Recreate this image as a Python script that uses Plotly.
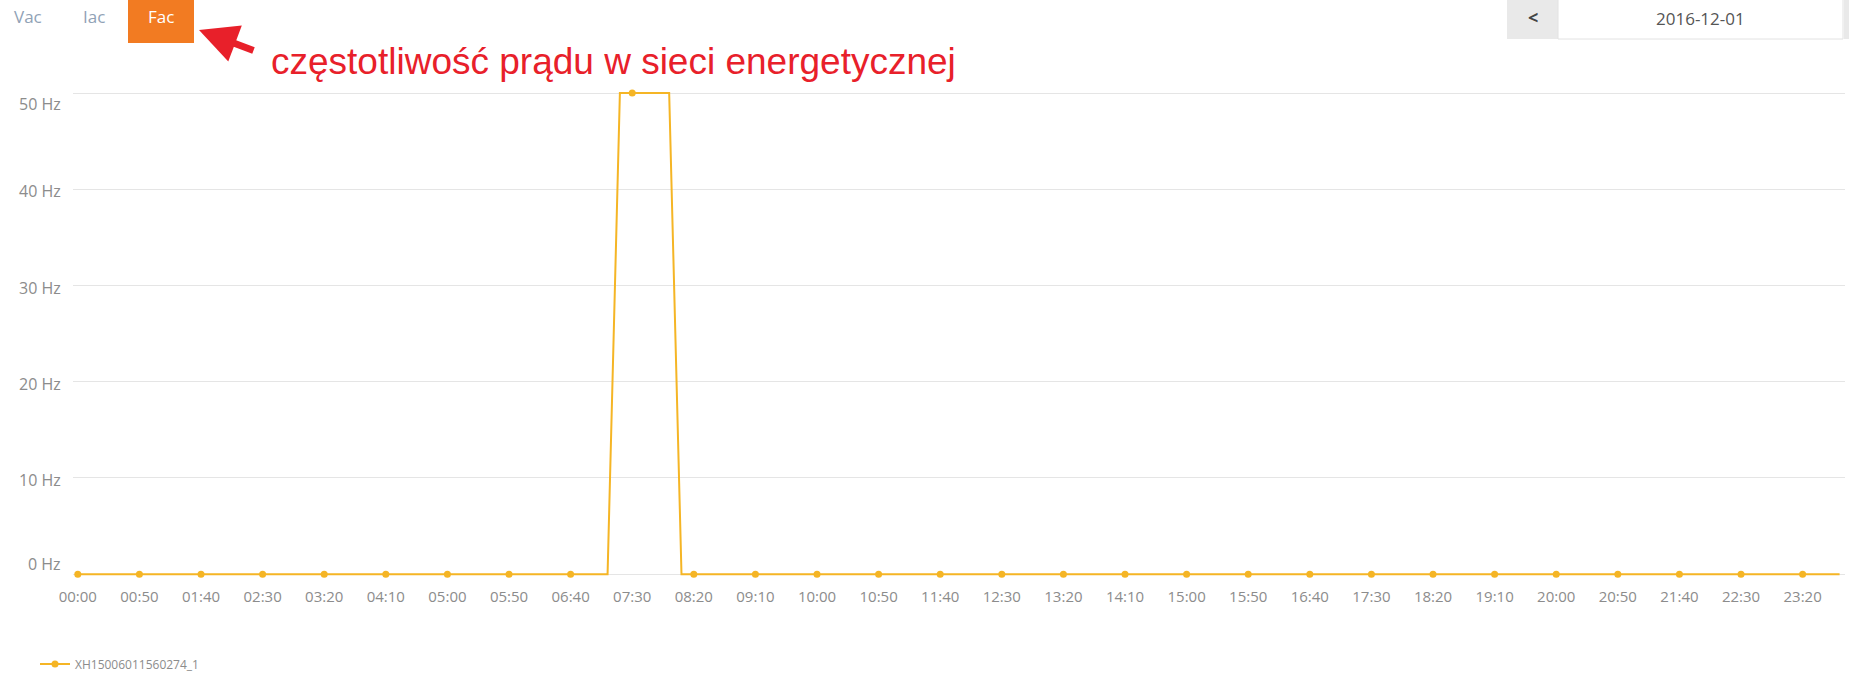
import plotly.graph_objects as go

# ---------------- data ----------------
times = [f"{h:02d}:{m:02d}" for h in range(24) for m in range(0, 60, 10)]

fac_hz = [
    0, 0, 0, 0, 0, 0, 0, 0, 0, 0, 0, 0,            # 00:00 - 01:50
    0, 0, 0, 0, 0, 0, 0, 0, 0, 0, 0, 0,            # 02:00 - 03:50
    0, 0, 0, 0, 0, 0, 0, 0, 0, 0, 0, 0,            # 04:00 - 05:50
    0, 0, 0, 0, 0, 0, 0, 0, 50.01, 50.0, 49.99, 50.0,  # 06:00 - 07:50
    50.01, 0, 0, 0, 0, 0, 0, 0, 0, 0, 0, 0,        # 08:00 - 09:50
    0, 0, 0, 0, 0, 0, 0, 0, 0, 0, 0, 0,            # 10:00 - 11:50
    0, 0, 0, 0, 0, 0, 0, 0, 0, 0, 0, 0,            # 12:00 - 13:50
    0, 0, 0, 0, 0, 0, 0, 0, 0, 0, 0, 0,            # 14:00 - 15:50
    0, 0, 0, 0, 0, 0, 0, 0, 0, 0, 0, 0,            # 16:00 - 17:50
    0, 0, 0, 0, 0, 0, 0, 0, 0, 0, 0, 0,            # 18:00 - 19:50
    0, 0, 0, 0, 0, 0, 0, 0, 0, 0, 0, 0,            # 20:00 - 21:50
    0, 0, 0, 0, 0, 0, 0, 0, 0, 0, 0, 0,            # 22:00 - 23:50
]
series_name = "XH15006011560274_1"

x_tick_step = 5
x_tick_labels = times[::x_tick_step]
y_ticks = [0, 10, 20, 30, 40, 50]
y_tick_labels = [f"{v} Hz" for v in y_ticks]
tabs = ["Vac", "Iac", "Fac"]
active_tab = "Fac"
date_text = "2016-12-01"
note_text = "częstotliwość prądu w sieci energetycznej"

# ---------------- layout geometry ----------------
W, H = 1849, 679
ML, MR, MT, MB = 73, 4, 85, 101
PW, PH = W - ML - MR, H - MT - MB


def px(x):
    return (x - ML) / PW


def py(y):
    return 1 - (y - MT) / PH


LINE = "#f5b525"
GRID = "#e5e5e5"
FONT = "Open Sans"
TXT = "#8c8c8c"

fig = go.Figure()
fig.add_trace(go.Scatter(
    x=times, y=fac_hz, mode="lines", name=series_name,
    line=dict(color=LINE, width=2), showlegend=False, hoverinfo="skip",
))
fig.add_trace(go.Scatter(
    x=times[::x_tick_step], y=fac_hz[::x_tick_step], mode="markers",
    marker=dict(color=LINE, size=7), showlegend=False, hoverinfo="skip",
))
# legend entry
fig.add_trace(go.Scatter(
    x=[None], y=[None], mode="lines+markers", name=series_name,
    line=dict(color=LINE, width=2), marker=dict(color=LINE, size=7),
))

fig.update_layout(
    width=W, height=H, autosize=False,
    margin=dict(l=ML, r=MR, t=MT, b=MB, pad=0),
    paper_bgcolor="white", plot_bgcolor="white",
    font=dict(family=FONT, size=15, color=TXT),
    legend=dict(orientation="h", xref="container", yref="container",
                x=35 / W, y=1 - 664 / H, xanchor="left", yanchor="middle",
                font=dict(size=12, color=TXT), bgcolor="rgba(0,0,0,0)"),
    xaxis=dict(type="category", range=[-0.39, 143.44], tickmode="array",
               tickvals=x_tick_labels, ticktext=x_tick_labels,
               showgrid=False, zeroline=False, showline=False, ticks="",
               ticklabelstandoff=8, tickfont=dict(size=15, color=TXT)),
    yaxis=dict(range=[-0.395, 50.84], tickvals=y_ticks, showticklabels=False,
               showgrid=True, gridcolor=GRID, gridwidth=1, zeroline=False,
               showline=False, ticks=""),
)

# y labels (top and bottom labels shifted inward as in the original)
shifts = {0: 10, 50: -11}
for v, lab in zip(y_ticks, y_tick_labels):
    fig.add_annotation(x=px(63), y=v, xref="paper", yref="y", text=lab,
                       showarrow=False, xanchor="right", yanchor="middle",
                       yshift=shifts.get(v, -2),
                       font=dict(family=FONT, size=16, color=TXT))

# tabs
tab_centers = {"Vac": 28, "Iac": 94, "Fac": 161}
fig.add_shape(type="rect", xref="paper", yref="paper",
              x0=px(128), x1=px(194), y0=py(43), y1=py(0),
              fillcolor="#f27b22", line=dict(width=0), layer="below")
for t in tabs:
    fig.add_annotation(x=px(tab_centers[t]), y=py(17), xref="paper", yref="paper",
                       text=t, showarrow=False, xanchor="center", yanchor="middle",
                       font=dict(family=FONT, size=17,
                                 color="white" if t == active_tab else "#90a2b6"))

# arrow + note
fig.add_annotation(x=px(199), y=py(30), xref="paper", yref="paper", text="",
                   showarrow=True, ax=56, ay=21, arrowhead=2, arrowsize=1.1,
                   arrowwidth=7, arrowcolor="#e8202a", standoff=0)
fig.add_annotation(x=px(269), y=py(62), xref="paper", yref="paper", text=note_text,
                   showarrow=False, xanchor="left", yanchor="middle",
                   font=dict(family="Liberation Sans", size=37, color="#e8202a"))

# date picker
fig.add_shape(type="rect", xref="paper", yref="paper",
              x0=px(1507), x1=px(1558), y0=py(39), y1=py(0),
              fillcolor="#e9e9e9", line=dict(width=0))
fig.add_shape(type="rect", xref="paper", yref="paper",
              x0=px(1558), x1=px(1843), y0=py(39), y1=py(-2),
              fillcolor="white", line=dict(color="#e2e2e2", width=1))
fig.add_shape(type="rect", xref="paper", yref="paper",
              x0=px(1844), x1=px(1850), y0=py(39), y1=py(0),
              fillcolor="#e9e9e9", line=dict(width=0))
fig.add_annotation(x=px(1533), y=py(17), xref="paper", yref="paper", text="<b>&lt;</b>",
                   showarrow=False, xanchor="center", yanchor="middle",
                   font=dict(family=FONT, size=18, color="#444444"))
fig.add_annotation(x=px(1700), y=py(18), xref="paper", yref="paper", text=date_text,
                   showarrow=False, xanchor="center", yanchor="middle",
                   font=dict(family=FONT, size=17, color="#555555"))

fig.write_html("out.html", config={"displayModeBar": False},
               post_script="document.body.style.margin='0';")
